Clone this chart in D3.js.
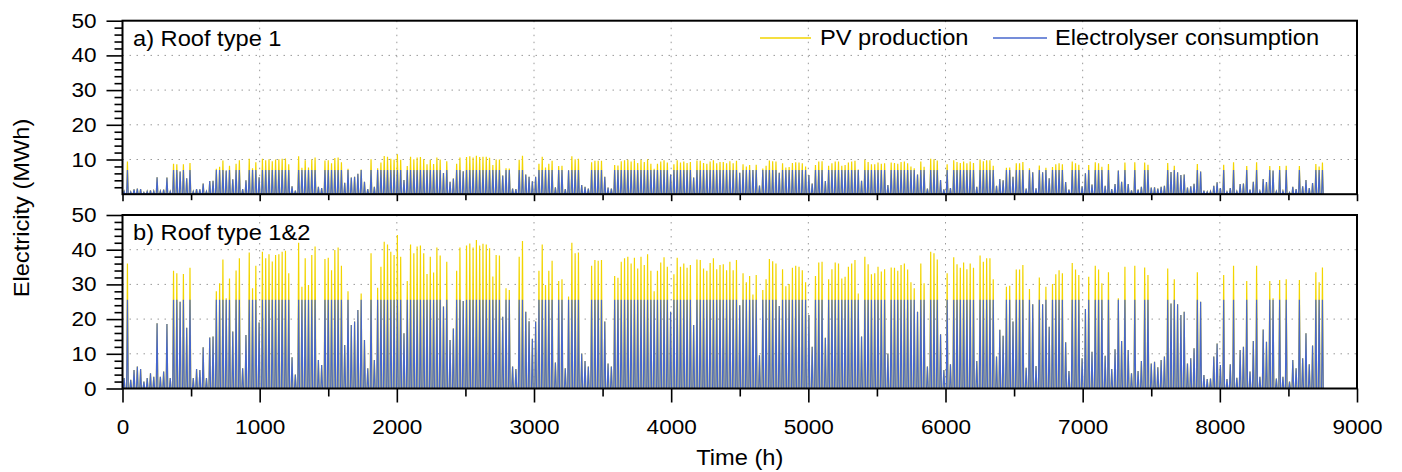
<!DOCTYPE html>
<html>
<head>
<meta charset="utf-8">
<script src="https://cdn.jsdelivr.net/npm/d3@7"></script>
<style>
  body { margin: 0; background: #fff; }
  svg text { font-family: "Liberation Sans", Arial, sans-serif; fill: #000; }
  .grid line { stroke: #9a9a9a; stroke-width: 1; stroke-dasharray: 1.5,5.5; }
  .axis path { display: none; }
  .axis line { stroke: #000; stroke-width: 1.6; }
  .axis text { font-size: 20.5px; }
</style>
</head>
<body>
<div id="chart"></div>
<script>
// daily peak values (MWh), one per day of the year
const pvRoof12 = [
  3, 36, 2.5, 5.3, 6.3, 5.6, 2, 3, 4.4, 3.4,
  18.8, 3.4, 4.9, 18.6, 3, 33.9, 33.2, 25, 33, 17.5,
  34.8, 3, 5.6, 5.3, 11.9, 3, 14.7, 15, 28, 30.3,
  37.2, 26, 31.7, 16.4, 34, 37.5, 5.8, 15.4, 39.2, 28.9,
  35.4, 19, 39.4, 37.5, 38.7, 36.6, 38.5, 38.7, 39.4, 39.7,
  33.2, 9, 4, 42, 29.3, 37.5, 29.8, 38.5, 40.9, 8.2,
  6.8, 37.3, 37.7, 34.1, 39.9, 40.6, 35.4, 12.5, 28, 18.3,
  19.3, 22.6, 27.4, 14, 5.8, 39, 8.2, 29, 35.1, 42.3,
  41.5, 39.4, 38.5, 44.2, 38, 15.9, 31, 41.5, 39, 40.9,
  41.2, 39, 33, 38, 33.4, 40.6, 38.3, 23.6, 36.5, 14,
  17.3, 33.9, 40.6, 25.2, 41.2, 41.8, 40.6, 42.8, 41.2, 41.7,
  41.5, 40.4, 32.3, 38.5, 38.3, 20.7, 28.9, 28.4, 6.3, 5.6,
  38, 42.5, 22.1, 19.4, 14.3, 19.3, 33.9, 41.5, 29.8, 33.9,
  36.8, 7.5, 31, 31.5, 5.8, 26.5, 42, 39, 39.2, 10.1,
  7.9, 6.3, 35.4, 37, 36.8, 37, 19.3, 7.2, 6.3, 32.4,
  31.9, 36.5, 37.5, 38, 36, 37.7, 34.6, 38, 35.6, 38.7,
  33.9, 28, 33.9, 36.3, 37.8, 35.1, 22.1, 32.9, 37.7, 35.1,
  36, 34.8, 35.6, 18.3, 37.2, 37, 34.6, 33.9, 36.2, 37.5,
  34.4, 35.6, 35.8, 34.1, 36.5, 34.1, 37, 24, 33.2, 30.6,
  32.4, 27.1, 32.7, 9.6, 28.4, 31.5, 37.3, 36.7, 36, 23.8,
  34.4, 29.5, 30.1, 34.8, 35.4, 35.1, 34.1, 30.6, 21.2, 12,
  32.4, 36.3, 36.5, 14.6, 31.5, 34.4, 36.3, 36, 31.7, 32.2,
  35.1, 36, 37, 27.4, 15, 38, 35.8, 32.9, 33.2, 35.1,
  33.7, 34.4, 10.1, 34.9, 34.8, 33.9, 35.6, 36, 34.3, 30.6,
  28.9, 22.1, 36, 30.3, 6.3, 39.4, 39, 37.2, 15.6, 5.3,
  33.2, 7, 37.8, 35.8, 34.8, 36.3, 34.4, 36, 34.8, 7.9,
  38.3, 36.5, 37.5, 37.5, 31.5, 9.2, 16.9, 15.2, 29.3, 29.6,
  19.3, 34.3, 34.3, 35.6, 6, 28.7, 24.3, 6.5, 32, 24.3,
  29.3, 17.8, 30.1, 32.9, 34.1, 33.2, 13.3, 5, 36.2, 34.3,
  32.7, 8.7, 22.9, 32.2, 10.6, 35.4, 34.3, 30.3, 9.4, 33.5,
  5.6, 11.3, 26, 13.7, 35.1, 11.1, 4.4, 35.4, 5, 7.9,
  34.9, 32.7, 7.2, 7.7, 6.1, 8.2, 9.2, 34.6, 24.5, 31.5,
  24.3, 21.2, 22.1, 7.2, 8.7, 11.6, 33.5, 25, 3.9, 2.7,
  2.9, 9.2, 13, 6.8, 32.7, 2.7, 7, 35.4, 3.1, 11.1,
  12, 31, 4.9, 13.7, 35.4, 3.4, 17, 13.5, 31, 26,
  2.9, 31.3, 3.4, 31.5, 2, 8.2, 5.8, 31.3, 8.7, 15.9,
  7, 12.4, 33.5, 30.6, 34.9
];
const elRoof12 = [
  3, 25.6, 2.5, 5.3, 6.3, 5.6, 2, 3, 4.4, 3.4,
  18.8, 3.4, 4.9, 18.6, 3, 25.6, 25.6, 25, 25.6, 17.5,
  25.6, 3, 5.6, 5.3, 11.9, 3, 14.7, 15, 25.6, 25.6,
  25.6, 25.6, 25.6, 16.4, 25.6, 25.6, 5.8, 15.4, 25.6, 25.6,
  25.6, 19, 25.6, 25.6, 25.6, 25.6, 25.6, 25.6, 25.6, 25.6,
  25.6, 9, 4, 25.6, 25.6, 25.6, 25.6, 25.6, 25.6, 8.2,
  6.8, 25.6, 25.6, 25.6, 25.6, 25.6, 25.6, 12.5, 25.6, 18.3,
  19.3, 22.6, 25.6, 14, 5.8, 25.6, 8.2, 25.6, 25.6, 25.6,
  25.6, 25.6, 25.6, 25.6, 25.6, 15.9, 25.6, 25.6, 25.6, 25.6,
  25.6, 25.6, 25.6, 25.6, 25.6, 25.6, 25.6, 23.6, 25.6, 14,
  17.3, 25.6, 25.6, 25.2, 25.6, 25.6, 25.6, 25.6, 25.6, 25.6,
  25.6, 25.6, 25.6, 25.6, 25.6, 20.7, 25.6, 25.6, 6.3, 5.6,
  25.6, 25.6, 22.1, 19.4, 14.3, 19.3, 25.6, 25.6, 25.6, 25.6,
  25.6, 7.5, 25.6, 25.6, 5.8, 25.6, 25.6, 25.6, 25.6, 10.1,
  7.9, 6.3, 25.6, 25.6, 25.6, 25.6, 19.3, 7.2, 6.3, 25.6,
  25.6, 25.6, 25.6, 25.6, 25.6, 25.6, 25.6, 25.6, 25.6, 25.6,
  25.6, 25.6, 25.6, 25.6, 25.6, 25.6, 22.1, 25.6, 25.6, 25.6,
  25.6, 25.6, 25.6, 18.3, 25.6, 25.6, 25.6, 25.6, 25.6, 25.6,
  25.6, 25.6, 25.6, 25.6, 25.6, 25.6, 25.6, 24, 25.6, 25.6,
  25.6, 25.6, 25.6, 9.6, 25.6, 25.6, 25.6, 25.6, 25.6, 23.8,
  25.6, 25.6, 25.6, 25.6, 25.6, 25.6, 25.6, 25.6, 21.2, 12,
  25.6, 25.6, 25.6, 14.6, 25.6, 25.6, 25.6, 25.6, 25.6, 25.6,
  25.6, 25.6, 25.6, 25.6, 15, 25.6, 25.6, 25.6, 25.6, 25.6,
  25.6, 25.6, 10.1, 25.6, 25.6, 25.6, 25.6, 25.6, 25.6, 25.6,
  25.6, 22.1, 25.6, 25.6, 6.3, 25.6, 25.6, 25.6, 15.6, 5.3,
  25.6, 7, 25.6, 25.6, 25.6, 25.6, 25.6, 25.6, 25.6, 7.9,
  25.6, 25.6, 25.6, 25.6, 25.6, 9.2, 16.9, 15.2, 25.6, 25.6,
  19.3, 25.6, 25.6, 25.6, 6, 25.6, 24.3, 6.5, 25.6, 24.3,
  25.6, 17.8, 25.6, 25.6, 25.6, 25.6, 13.3, 5, 25.6, 25.6,
  25.6, 8.7, 22.9, 25.6, 10.6, 25.6, 25.6, 25.6, 9.4, 25.6,
  5.6, 11.3, 25.6, 13.7, 25.6, 11.1, 4.4, 25.6, 5, 7.9,
  25.6, 25.6, 7.2, 7.7, 6.1, 8.2, 9.2, 25.6, 24.5, 25.6,
  24.3, 21.2, 22.1, 7.2, 8.7, 11.6, 25.6, 25, 3.9, 2.7,
  2.9, 9.2, 13, 6.8, 25.6, 2.7, 7, 25.6, 3.1, 11.1,
  12, 25.6, 4.9, 13.7, 25.6, 3.4, 17, 13.5, 25.6, 25.6,
  2.9, 25.6, 3.4, 25.6, 2, 8.2, 5.8, 25.6, 8.7, 15.9,
  7, 12.4, 25.6, 25.6, 25.6
];
const pvRoof1 = [
  0.8, 9.4, 0.7, 1.4, 1.6, 1.5, 0.5, 0.8, 1.1, 0.9,
  4.9, 0.9, 1.3, 4.8, 0.8, 8.8, 8.6, 6.5, 8.6, 4.6,
  9.0, 0.8, 1.5, 1.4, 3.1, 0.8, 3.8, 3.9, 7.3, 7.9,
  9.7, 6.8, 8.2, 4.3, 8.8, 9.8, 1.5, 4.0, 10.2, 7.5,
  9.2, 4.9, 10.2, 9.8, 10.1, 9.5, 10.0, 10.1, 10.2, 10.3,
  8.6, 2.3, 1.0, 10.9, 7.6, 9.8, 7.7, 10.0, 10.6, 2.1,
  1.8, 9.7, 9.8, 8.9, 10.4, 10.6, 9.2, 3.3, 7.3, 4.8,
  5.0, 5.9, 7.1, 3.6, 1.5, 10.1, 2.1, 7.5, 9.1, 11.0,
  10.8, 10.2, 10.0, 11.5, 9.9, 4.1, 8.1, 10.8, 10.1, 10.6,
  10.7, 10.1, 8.6, 9.9, 8.7, 10.6, 10.0, 6.1, 9.5, 3.6,
  4.5, 8.8, 10.6, 6.6, 10.7, 10.9, 10.6, 11.1, 10.7, 10.8,
  10.8, 10.5, 8.4, 10.0, 10.0, 5.4, 7.5, 7.4, 1.6, 1.5,
  9.9, 11.1, 5.7, 5.0, 3.7, 5.0, 8.8, 10.8, 7.7, 8.8,
  9.6, 2.0, 8.1, 8.2, 1.5, 6.9, 10.9, 10.1, 10.2, 2.6,
  2.1, 1.6, 9.2, 9.6, 9.6, 9.6, 5.0, 1.9, 1.6, 8.4,
  8.3, 9.5, 9.8, 9.9, 9.4, 9.8, 9.0, 9.9, 9.3, 10.1,
  8.8, 7.3, 8.8, 9.4, 9.8, 9.1, 5.7, 8.6, 9.8, 9.1,
  9.4, 9.0, 9.3, 4.8, 9.7, 9.6, 9.0, 8.8, 9.4, 9.8,
  8.9, 9.3, 9.3, 8.9, 9.5, 8.9, 9.6, 6.2, 8.6, 8.0,
  8.4, 7.0, 8.5, 2.5, 7.4, 8.2, 9.7, 9.5, 9.4, 6.2,
  8.9, 7.7, 7.8, 9.0, 9.2, 9.1, 8.9, 8.0, 5.5, 3.1,
  8.4, 9.4, 9.5, 3.8, 8.2, 8.9, 9.4, 9.4, 8.2, 8.4,
  9.1, 9.4, 9.6, 7.1, 3.9, 9.9, 9.3, 8.6, 8.6, 9.1,
  8.8, 8.9, 2.6, 9.1, 9.0, 8.8, 9.3, 9.4, 8.9, 8.0,
  7.5, 5.7, 9.4, 7.9, 1.6, 10.2, 10.1, 9.7, 4.1, 1.4,
  8.6, 1.8, 9.8, 9.3, 9.0, 9.4, 8.9, 9.4, 9.0, 2.1,
  10.0, 9.5, 9.8, 9.8, 8.2, 2.4, 4.4, 4.0, 7.6, 7.7,
  5.0, 8.9, 8.9, 9.3, 1.6, 7.5, 6.3, 1.7, 8.3, 6.3,
  7.6, 4.6, 7.8, 8.6, 8.9, 8.6, 3.5, 1.3, 9.4, 8.9,
  8.5, 2.3, 6.0, 8.4, 2.8, 9.2, 8.9, 7.9, 2.4, 8.7,
  1.5, 2.9, 6.8, 3.6, 9.1, 2.9, 1.1, 9.2, 1.3, 2.1,
  9.1, 8.5, 1.9, 2.0, 1.6, 2.1, 2.4, 9.0, 6.4, 8.2,
  6.3, 5.5, 5.7, 1.9, 2.3, 3.0, 8.7, 6.5, 1.0, 0.7,
  0.8, 2.4, 3.4, 1.8, 8.5, 0.7, 1.8, 9.2, 0.8, 2.9,
  3.1, 8.1, 1.3, 3.6, 9.2, 0.9, 4.4, 3.5, 8.1, 6.8,
  0.8, 8.1, 0.9, 8.2, 0.5, 2.1, 1.5, 8.1, 2.3, 4.1,
  1.8, 3.2, 8.7, 8.0, 9.1
];
const elRoof1 = [
  0.8, 7, 0.7, 1.4, 1.6, 1.5, 0.5, 0.8, 1.1, 0.9,
  4.9, 0.9, 1.3, 4.8, 0.8, 7, 7, 6.5, 7, 4.6,
  7, 0.8, 1.5, 1.4, 3.1, 0.8, 3.8, 3.9, 7, 7,
  7, 6.8, 7, 4.3, 7, 7, 1.5, 4.0, 7, 7,
  7, 4.9, 7, 7, 7, 7, 7, 7, 7, 7,
  7, 2.3, 1.0, 7, 7, 7, 7, 7, 7, 2.1,
  1.8, 7, 7, 7, 7, 7, 7, 3.3, 7, 4.8,
  5.0, 5.9, 7, 3.6, 1.5, 7, 2.1, 7, 7, 7,
  7, 7, 7, 7, 7, 4.1, 7, 7, 7, 7,
  7, 7, 7, 7, 7, 7, 7, 6.1, 7, 3.6,
  4.5, 7, 7, 6.6, 7, 7, 7, 7, 7, 7,
  7, 7, 7, 7, 7, 5.4, 7, 7, 1.6, 1.5,
  7, 7, 5.7, 5.0, 3.7, 5.0, 7, 7, 7, 7,
  7, 2.0, 7, 7, 1.5, 6.9, 7, 7, 7, 2.6,
  2.1, 1.6, 7, 7, 7, 7, 5.0, 1.9, 1.6, 7,
  7, 7, 7, 7, 7, 7, 7, 7, 7, 7,
  7, 7, 7, 7, 7, 7, 5.7, 7, 7, 7,
  7, 7, 7, 4.8, 7, 7, 7, 7, 7, 7,
  7, 7, 7, 7, 7, 7, 7, 6.2, 7, 7,
  7, 7, 7, 2.5, 7, 7, 7, 7, 7, 6.2,
  7, 7, 7, 7, 7, 7, 7, 7, 5.5, 3.1,
  7, 7, 7, 3.8, 7, 7, 7, 7, 7, 7,
  7, 7, 7, 7, 3.9, 7, 7, 7, 7, 7,
  7, 7, 2.6, 7, 7, 7, 7, 7, 7, 7,
  7, 5.7, 7, 7, 1.6, 7, 7, 7, 4.1, 1.4,
  7, 1.8, 7, 7, 7, 7, 7, 7, 7, 2.1,
  7, 7, 7, 7, 7, 2.4, 4.4, 4.0, 7, 7,
  5.0, 7, 7, 7, 1.6, 7, 6.3, 1.7, 7, 6.3,
  7, 4.6, 7, 7, 7, 7, 3.5, 1.3, 7, 7,
  7, 2.3, 6.0, 7, 2.8, 7, 7, 7, 2.4, 7,
  1.5, 2.9, 6.8, 3.6, 7, 2.9, 1.1, 7, 1.3, 2.1,
  7, 7, 1.9, 2.0, 1.6, 2.1, 2.4, 7, 6.4, 7,
  6.3, 5.5, 5.7, 1.9, 2.3, 3.0, 7, 6.5, 1.0, 0.7,
  0.8, 2.4, 3.4, 1.8, 7, 0.7, 1.8, 7, 0.8, 2.9,
  3.1, 7, 1.3, 3.6, 7, 0.9, 4.4, 3.5, 7, 6.8,
  0.8, 7, 0.9, 7, 0.5, 2.1, 1.5, 7, 2.3, 4.1,
  1.8, 3.2, 7, 7, 7
];

const xTicks  = [0, 1000, 2000, 3000, 4000, 5000, 6000, 7000, 8000, 9000];
const yTicksA = [10, 20, 30, 40, 50];
const yTicksB = [0, 10, 20, 30, 40, 50];
const seriesNames = ['PV production', 'Electrolyser consumption'];
const colors = { pv: '#f2d500', el: '#4767cc' };

const W = 1402, H = 472;
const left = 122.5, right = 1357;
const stretchX = 1.1;   // the lettering in the figure is a little wide

const svg = d3.select('#chart').append('svg')
  .attr('width', W).attr('height', H);

const x = d3.scaleLinear().domain([0, 9000]).range([left, right]);

// each day: zero at sunrise and sunset, the peak value at noon
function dayPoints(peaks) {
  const pts = [];
  peaks.forEach((v, d) => {
    pts.push([d * 24 + 6, 0], [d * 24 + 12, v], [d * 24 + 18, 0]);
  });
  return pts;
}

// widen text around its own anchor point
function widen(sel) {
  sel.each(function() {
    const t = d3.select(this);
    const tx = +t.attr('x') || 0, ty = +t.attr('y') || 0;
    t.attr('transform', `translate(${tx},${ty}) scale(${stretchX},1) translate(${-tx},${-ty})`);
  });
}

function drawPanel(cfg) {
  const y = d3.scaleLinear().domain([0, 50]).range([cfg.bottom, cfg.top]);
  const g = svg.append('g');

  // grid
  const grid = g.append('g').attr('class', 'grid');
  grid.selectAll('.gx').data(xTicks.slice(1, -1)).join('line')
    .attr('x1', d => x(d)).attr('x2', d => x(d))
    .attr('y1', cfg.top).attr('y2', cfg.bottom);
  grid.selectAll('.gy').data([10, 20, 30, 40]).join('line')
    .attr('x1', left).attr('x2', right)
    .attr('y1', d => y(d)).attr('y2', d => y(d));

  const clipId = 'clip-' + cfg.id;
  svg.append('clipPath').attr('id', clipId).append('rect')
    .attr('x', left).attr('y', cfg.top)
    .attr('width', right - left).attr('height', cfg.bottom - cfg.top);

  const line = d3.line().x(d => x(d[0])).y(d => y(d[1]));
  const marks = g.append('g').attr('clip-path', `url(#${clipId})`);
  marks.append('path').datum(dayPoints(cfg.pv))
    .attr('fill', 'none').attr('stroke', colors.pv).attr('stroke-width', 1.2)
    .attr('d', line);
  marks.append('path').datum(dayPoints(cfg.el))
    .attr('fill', 'none').attr('stroke', colors.el).attr('stroke-width', 1.2)
    .attr('d', line);

  // axes
  const yAxisG = g.append('g').attr('class', 'axis')
    .attr('transform', `translate(${left},0)`)
    .call(d3.axisLeft(y).tickValues(cfg.yTicks).tickSize(16).tickPadding(10));
  widen(yAxisG.selectAll('text'));
  g.append('g').attr('class', 'axis')
    .attr('transform', `translate(${left},0)`)
    .call(d3.axisLeft(y).tickValues(d3.range(0, 51, 2).filter(v => v % 10)).tickSize(8).tickFormat(''));

  const xAxis = d3.axisBottom(x).tickValues(xTicks)
    .tickSize(cfg.xLabels ? 14 : 7).tickPadding(17).tickFormat(d3.format('d'));
  if (!cfg.xLabels) xAxis.tickFormat('');
  const xAxisG = g.append('g').attr('class', 'axis')
    .attr('transform', `translate(0,${cfg.bottom})`)
    .call(xAxis);
  widen(xAxisG.selectAll('text'));
  g.append('g').attr('class', 'axis')
    .attr('transform', `translate(0,${cfg.bottom})`)
    .call(d3.axisBottom(x).tickValues(d3.range(500, 9000, 1000))
      .tickSize(cfg.xLabels ? 8 : 6).tickFormat(''));

  g.append('rect')
    .attr('x', left).attr('y', cfg.top)
    .attr('width', right - left).attr('height', cfg.bottom - cfg.top)
    .attr('fill', 'none').attr('stroke', '#000').attr('stroke-width', 2);

  g.append('text')
    .attr('x', left + 10.5).attr('y', cfg.top + 25.5)
    .style('font-size', '21.5px')
    .text(cfg.title)
    .call(widen);

  return y;
}

drawPanel({ id: 'a', top: 20.7, bottom: 194.2, pv: pvRoof1, el: elRoof1,
  yTicks: yTicksA, xLabels: false, title: 'a) Roof type 1' });
drawPanel({ id: 'b', top: 215, bottom: 388.5, pv: pvRoof12, el: elRoof12,
  yTicks: yTicksB, xLabels: true, title: 'b) Roof type 1&2' });

// legend
const legend = svg.append('g').style('font-size', '21.5px');
const legendItems = [
  { name: seriesNames[0], color: colors.pv, x0: 760, x1: 811, tx: 820 },
  { name: seriesNames[1], color: colors.el, x0: 993, x1: 1047, tx: 1055 }
];
legendItems.forEach(it => {
  legend.append('line').attr('x1', it.x0).attr('x2', it.x1)
    .attr('y1', 38).attr('y2', 38)
    .attr('stroke', it.color).attr('stroke-width', 1.5);
  legend.append('text').attr('x', it.tx).attr('y', 45.5).text(it.name).call(widen);
});

// axis titles
svg.append('text')
  .attr('x', x(4500)).attr('y', 465)
  .attr('text-anchor', 'middle')
  .style('font-size', '21.5px')
  .text('Time (h)')
  .call(widen);
svg.append('text')
  .attr('transform', `translate(29,208) rotate(-90) scale(${stretchX},1)`)
  .attr('text-anchor', 'middle')
  .style('font-size', '21.5px')
  .text('Electricity (MWh)');
</script>
</body>
</html>
